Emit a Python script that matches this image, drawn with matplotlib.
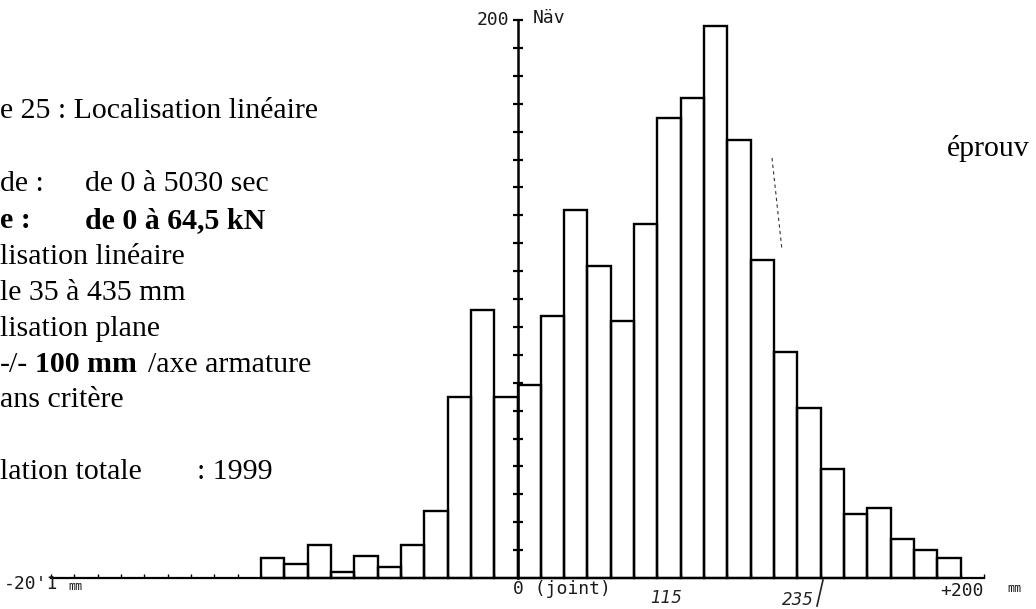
import numpy as np
import matplotlib
matplotlib.use("Agg")
import matplotlib.pyplot as plt
from matplotlib.lines import Line2D

# ---- data ----
bin_left_mm = list(range(-110, 190, 10))          # left edges of 10 mm bins
counts = [7, 5, 12, 2, 8, 4, 12, 24, 65, 96, 65,
          69, 94, 132, 112, 92, 127, 165, 172, 198, 157,
          114, 81, 61, 39, 23, 25, 14, 10, 7]
bin_width_mm = 10
x_range = (-200, 200)
y_max = 200
y_tick_values = list(range(10, 201, 10))

text_lines = [
    "e 25 : Localisation linéaire",
    "de :", "de 0 à 5030 sec",
    "e :", "de 0 à 64,5 kN",
    "lisation linéaire",
    "le 35 à 435 mm",
    "lisation plane",
    "-/-", "100 mm", "/axe armature",
    "ans critère",
    "lation totale", ": 1999",
]

W, H = 1036, 609
fig = plt.figure(figsize=(W / 100, H / 100), dpi=100)
fig.patch.set_facecolor("white")

# axes placed so that -200..200 mm spans px 51..984 and 0..200 spans py 578..20
x0, x1 = 51, 984
y0, y1 = 578, 20
ax = fig.add_axes([x0 / W, (H - y0) / H, (x1 - x0) / W, (y0 - y1) / H])
ax.set_xlim(*x_range)
ax.set_ylim(0, y_max)
ax.patch.set_alpha(0)

ax.bar(bin_left_mm, counts, width=bin_width_mm, align="edge",
       fill=False, edgecolor="black", linewidth=1.7, clip_on=False)

for s in ["top", "right"]:
    ax.spines[s].set_visible(False)
ax.spines["left"].set_position(("data", 0))
ax.spines["left"].set_linewidth(1.8)
ax.spines["bottom"].set_linewidth(1.6)
ax.set_yticks(y_tick_values)
ax.set_yticklabels([])
ax.tick_params(axis="y", direction="inout", length=7, width=1.6)
ax.set_xticks(list(range(-200, 201, 10)))
ax.set_xticklabels([])
ax.tick_params(axis="x", direction="in", length=3, width=1.0)


def ft(px, py, s, **kw):
    fig.text(px / W, 1 - py / H, s, **kw)


mono = dict(family="DejaVu Sans Mono", fontsize=13, color="#1a1a1a")
small = dict(family="DejaVu Sans Mono", fontsize=8.5, color="#1a1a1a")
ft(509, 20, "200", ha="right", va="center", **mono)
ft(533, 18, "Näv", ha="left", va="center", **mono)
ft(4, 584, "-20'1", ha="left", va="center", **mono)
ft(68, 586, "mm", ha="left", va="center", **small)
ft(513, 589, "0 (joint)", ha="left", va="center", **mono)
ft(940, 591, "+200", ha="left", va="center", **mono)
ft(1007, 589, "mm", ha="left", va="center", **small)

# handwritten annotations
hand = dict(family="DejaVu Sans", style="italic", fontsize=12, color="#222222")
ft(650, 598, "115", ha="left", va="center", **hand)
ft(782, 600, "235", ha="left", va="center", **hand)
fig.add_artist(Line2D([823 / W, 817 / W], [1 - 580 / H, 1 - 606 / H], color="#222222", lw=1.2))
fig.add_artist(Line2D([772 / W, 782 / W], [1 - 158 / H, 1 - 250 / H], color="#333333",
                      lw=0.8, linestyle=(0, (3, 3))))

# left text block
serif = dict(family="Liberation Serif", fontsize=21.5, color="black", va="center")
ft(0, 111, text_lines[0], **serif)
ft(0, 184, text_lines[1], **serif)
ft(85, 184, text_lines[2], **serif)
ft(0, 221, text_lines[3], weight="bold", **serif)
ft(85, 221, text_lines[4], weight="bold", **serif)
ft(0, 257, text_lines[5], **serif)
ft(0, 293, text_lines[6], **serif)
ft(0, 329, text_lines[7], **serif)
ft(0, 365, text_lines[8], **serif)
ft(35, 365, text_lines[9], weight="bold", **serif)
ft(148, 365, text_lines[10], **serif)
ft(0, 400, text_lines[11], **serif)
ft(0, 472, text_lines[12], **serif)
ft(197, 472, text_lines[13], **serif)
ft(947, 148, "éprouv", **serif)

fig.savefig("out.png", dpi=100, facecolor="white")
